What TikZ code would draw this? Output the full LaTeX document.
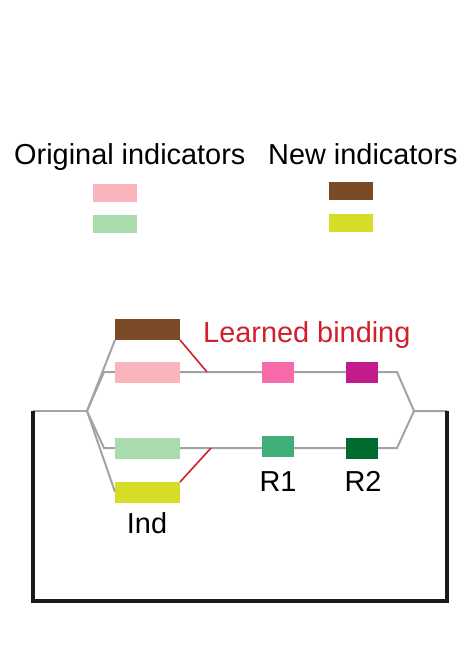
\documentclass[tikz,border=0pt]{standalone}
\usepackage{fontspec}
\setmainfont{Liberation Sans}
\definecolor{cpink}{HTML}{F9B4BC}
\definecolor{cgreen}{HTML}{A9DBAF}
\definecolor{cbrown}{HTML}{7B4A27}
\definecolor{cyellow}{HTML}{D6DD27}
\definecolor{chot}{HTML}{F66AAA}
\definecolor{cmag}{HTML}{C21C8C}
\definecolor{cr1}{HTML}{40AE78}
\definecolor{cr2}{HTML}{006A2F}
\definecolor{cred}{HTML}{D0202E}
\definecolor{cgray}{HTML}{A3A3A3}
\definecolor{cblack}{HTML}{1A1A1A}
\tikzset{
  bx/.style={inner sep=0pt, outer sep=0pt, anchor=north west, minimum width=65bp, minimum height=21bp},
  lg/.style={inner sep=0pt, outer sep=0pt, anchor=north west, minimum width=44bp, minimum height=18bp},
  rb/.style={inner sep=0pt, outer sep=0pt, anchor=north west, minimum width=32bp, minimum height=21bp},
  lbl/.style={inner sep=0pt, font=\fontsize{29}{31}\selectfont},
  gline/.style={draw=cgray, line width=2bp},
  bline/.style={draw=cblack, line width=3.2bp, line join=miter},
  rline/.style={draw=cred, line width=1.6bp},
}
\begin{document}
\begin{tikzpicture}[x=1bp,y=-1bp]
\useasboundingbox (0,0) rectangle (475,657);
% headers
\node[lbl, anchor=base west] (hOrig) at (14,164) {Original indicators};
\node[lbl, anchor=base west] (hNew) at (268,164) {New indicators};
% legend
\node[lg, fill=cpink] (lgP) at (93,184) {};
\node[lg, fill=cgreen] (lgG) at (93,215) {};
\node[lg, fill=cbrown] (lgB) at (329,182) {};
\node[lg, fill=cyellow] (lgY) at (329,214) {};
% coordinates
\coordinate (lend) at (33,411);
\coordinate (bl) at (87,411);
\coordinate (ps) at (104,372);
\coordinate (gs) at (104,448);
\coordinate (ft) at (397,372);
\coordinate (fb) at (397,448);
\coordinate (br) at (414,411);
\coordinate (rend) at (447,411);
\coordinate (lbot) at (33,601);
\coordinate (rbot) at (447,601);
\coordinate (lb1) at (207,372);
\coordinate (lb2) at (211,448);
% gray lines (behind boxes)
\draw[gline] (lend) -- (bl);
\draw[gline] (bl) -- (ps) -- (ft) -- (br) -- (rend);
\draw[gline] (bl) -- (gs) -- (fb) -- (br);
\draw[gline] (bl) -- (115,340);
\draw[gline] (bl) -- (115,492);
% black loop
\draw[bline] (lend) -- (lbot) -- (rbot) -- (rend);
% boxes
\node[bx, fill=cbrown] (bB) at (115,319) {};
\node[bx, fill=cpink] (bP) at (115,362) {};
\node[bx, fill=cgreen] (bG) at (115,438) {};
\node[bx, fill=cyellow] (bY) at (115,482) {};
\node[rb, fill=chot] (r1a) at (262,362) {};
\node[rb, fill=cmag] (r2a) at (346,362) {};
\node[rb, fill=cr1] (r1b) at (262,436) {};
\node[rb, fill=cr2] (r2b) at (346,438) {};
% red binding lines
\draw[rline] (bB.south east) -- (lb1);
\draw[rline] (bY.north east) -- (lb2);
% labels
\node[lbl, anchor=base west, text=cred] (lbind) at (203,342) {Learned binding};
\node[lbl, anchor=base] (lInd) at (147,533) {Ind};
\node[lbl, anchor=base] (lR1) at (278,491) {R1};
\node[lbl, anchor=base] (lR2) at (363,491) {R2};
\end{tikzpicture}
\end{document}
